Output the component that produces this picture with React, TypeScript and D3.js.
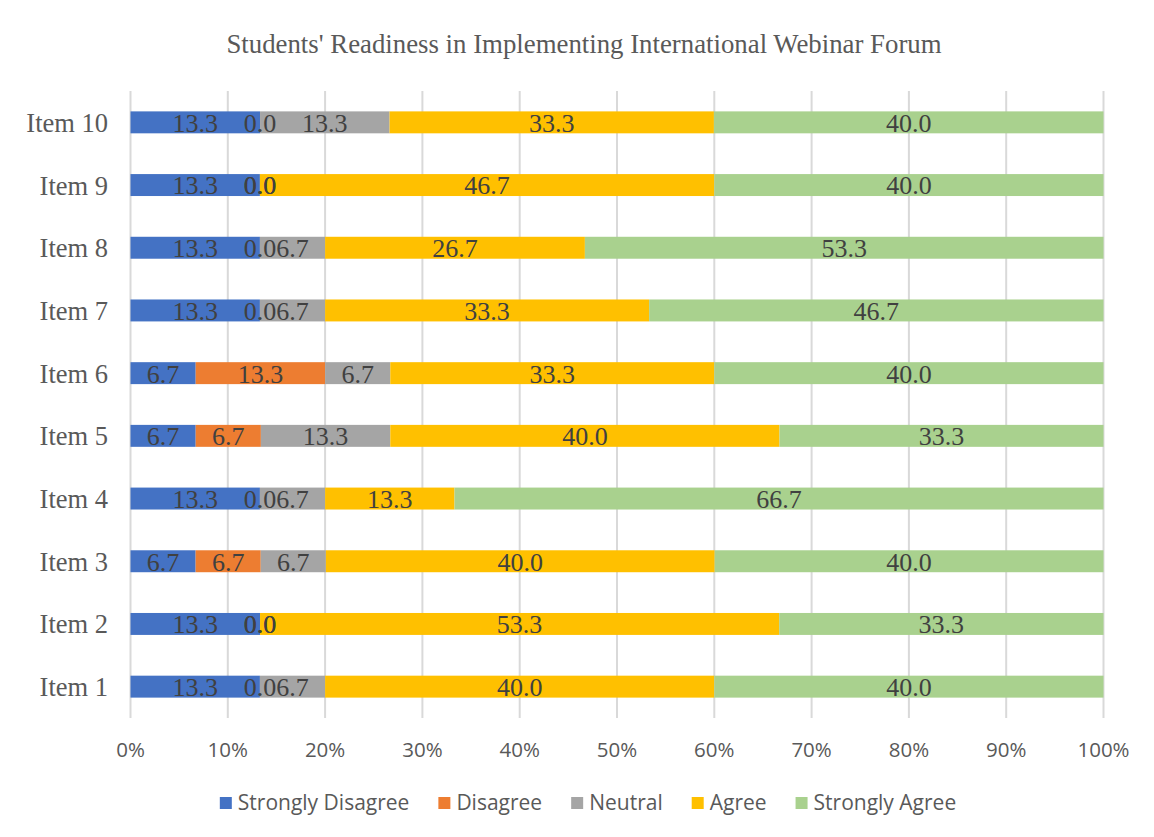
import React, { useEffect, useRef } from "react";
import * as d3 from "d3";

const items = ["Item 1", "Item 2", "Item 3", "Item 4", "Item 5", "Item 6", "Item 7", "Item 8", "Item 9", "Item 10"];
const seriesNames = ["Strongly Disagree", "Disagree", "Neutral", "Agree", "Strongly Agree"];
const stronglyDisagree = [13.3, 13.3, 6.7, 13.3, 6.7, 6.7, 13.3, 13.3, 13.3, 13.3];
const disagree = [0.0, 0.0, 6.7, 0.0, 6.7, 13.3, 0.0, 0.0, 0.0, 0.0];
const neutral = [6.7, 0.0, 6.7, 6.7, 13.3, 6.7, 6.7, 6.7, 0.0, 13.3];
const agree = [40.0, 53.3, 40.0, 13.3, 40.0, 33.3, 33.3, 26.7, 46.7, 33.3];
const stronglyAgree = [40.0, 33.3, 40.0, 66.7, 33.3, 40.0, 46.7, 53.3, 40.0, 40.0];
const colors = ["#4472C4", "#ED7D31", "#A5A5A5", "#FFC000", "#A9D18E"];
const tickValues = [0, 0.1, 0.2, 0.3, 0.4, 0.5, 0.6, 0.7, 0.8, 0.9, 1.0];
const title = "Students' Readiness in Implementing International Webinar Forum";

const W = 1154;
const H = 837;

export default function App() {
  const ref = useRef<SVGSVGElement>(null);

  useEffect(() => {
    const svg = d3.select(ref.current);
    svg.selectAll("*").remove();

    const serif = "'Liberation Serif', 'Times New Roman', serif";
    const sans = "'Open Sans', 'Noto Sans', sans-serif";

    svg.append("rect").attr("x", 0).attr("y", 0).attr("width", W).attr("height", H).attr("fill", "#fff");
    svg.append("rect").attr("x", 5.5).attr("y", 7.5).attr("width", 1147).attr("height", 840)
      .attr("fill", "#fff").attr("stroke", "#d9d9d9").attr("stroke-width", 1);

    const table = items.map((name, i) => ({
      name,
      "Strongly Disagree": stronglyDisagree[i],
      "Disagree": disagree[i],
      "Neutral": neutral[i],
      "Agree": agree[i],
      "Strongly Agree": stronglyAgree[i],
    }));

    const stack = d3.stack<any>().keys(seriesNames).offset(d3.stackOffsetExpand);
    const layers = stack(table);

    const x = d3.scaleLinear().domain([0, 1]).range([130.5, 1103.5]);
    const y = d3.scaleBand().domain([...items].reverse()).range([91, 718]).paddingInner(0.65).paddingOuter(0.325);

    // title
    svg.append("text").attr("x", 584).attr("y", 53).attr("text-anchor", "middle")
      .attr("font-family", serif).attr("font-size", 26.8).attr("fill", "#595959").text(title);

    // gridlines
    svg.append("g").selectAll("line").data(tickValues).join("line")
      .attr("x1", (d) => x(d)).attr("x2", (d) => x(d))
      .attr("y1", 91).attr("y2", 718)
      .attr("stroke", "#d9d9d9").attr("stroke-width", 2);

    // tick labels
    svg.append("g").selectAll("text").data(tickValues).join("text")
      .attr("x", (d) => x(d)).attr("y", 757).attr("text-anchor", "middle")
      .attr("font-family", sans).attr("font-size", 20.5).attr("fill", "#595959")
      .text((d) => d3.format(".0%")(d));

    // category labels
    svg.append("g").selectAll("text").data(items).join("text")
      .attr("x", 108).attr("y", (d) => (y(d) as number) + y.bandwidth() / 2)
      .attr("dy", "0.36em").attr("text-anchor", "end")
      .attr("font-family", serif).attr("font-size", 26.5).attr("fill", "#595959")
      .text((d) => d);

    // bars
    layers.forEach((layer, li) => {
      svg.append("g").selectAll("rect").data(layer).join("rect")
        .attr("x", (d) => x(d[0]))
        .attr("y", (d) => y(d.data.name) as number)
        .attr("width", (d) => Math.max(0, x(d[1]) - x(d[0])))
        .attr("height", y.bandwidth())
        .attr("fill", colors[li]);
    });

    // data labels
    layers.forEach((layer) => {
      svg.append("g").selectAll("text").data(layer).join("text")
        .attr("x", (d) => (x(d[0]) + x(d[1])) / 2)
        .attr("y", (d) => (y(d.data.name) as number) + y.bandwidth() / 2)
        .attr("dy", "0.36em").attr("text-anchor", "middle")
        .attr("font-family", serif).attr("font-size", 26).attr("fill", "#404040")
        .text((d) => (d.data[layer.key] as number).toFixed(1));
    });

    // legend
    const lg = svg.append("g");
    const entries = seriesNames.map((name, i) => {
      const g = lg.append("g");
      g.append("rect").attr("width", 12).attr("height", 12).attr("y", -6).attr("fill", colors[i]);
      const t = g.append("text").attr("x", 18).attr("dy", "0.35em")
        .attr("font-family", sans).attr("font-size", 21).attr("fill", "#595959").text(name);
      const w = (t.node() as SVGTextElement).getComputedTextLength();
      return { g, w: 18 + w };
    });
    const gap = 29;
    const total = entries.reduce((s, e) => s + e.w, 0) + gap * (entries.length - 1);
    let cx = 588 - total / 2;
    entries.forEach((e) => {
      e.g.attr("transform", `translate(${cx},803)`);
      cx += e.w + gap;
    });
  }, []);

  return <svg ref={ref} width={W} height={H} style={{ display: "block", margin: -8 }} />;
}
